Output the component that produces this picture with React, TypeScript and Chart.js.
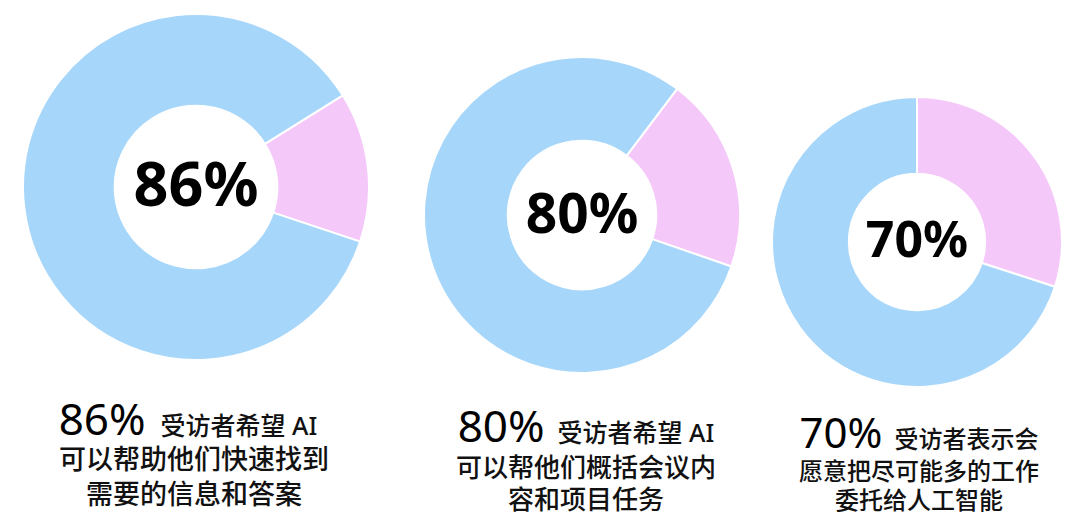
import React, { useEffect, useRef } from "react";
import { Chart, registerables } from "chart.js";

Chart.register(...registerables);

// ---- data ----
const segmentLabels = ["其他", "受访者占比"];
const sharePercents = [86, 80, 70];
const restPercents = [14, 20, 30];
const centerLabels = ["86%", "80%", "70%"];
const captionPercents = ["86%", "80%", "70%"];
const captionLeads = ["受访者希望 AI", "受访者希望 AI", "受访者表示会"];
const captionLine2 = ["可以帮助他们快速找到", "可以帮他们概括会议内", "愿意把尽可能多的工作"];
const captionLine3 = ["需要的信息和答案", "容和项目任务", "委托给人工智能"];

// ---- layout / style ----
const BLUE = "#A6D6FA";
const PINK = "#F5C8FA";
const FONT = '"Noto Sans", "Noto Sans CJK SC", sans-serif';

const ringLayout = [
  { cx: 196, cy: 187, r: 174, rotation: 58, font: 61, baseDy: 19 },
  { cx: 582, cy: 215, r: 159, rotation: 37, font: 55, baseDy: 18 },
  { cx: 917, cy: 242, r: 146, rotation: 0, font: 50, baseDy: 15 },
];

const captionLayout = [
  { cx: 194, l1dx: -6, l1: 418, l2: 459, l3: 494, pct: 44, gap: 15, lead: 25, body: 27 },
  { cx: 586, l1dx: 0, l1: 425, l2: 467, l3: 499, pct: 44, gap: 13, lead: 25, body: 26 },
  { cx: 919, l1dx: 0, l1: 432, l2: 471, l3: 500, pct: 42, gap: 12, lead: 24, body: 24 },
];

function Ring({ idx }: { idx: number }) {
  const ref = useRef<HTMLCanvasElement | null>(null);
  const lay = ringLayout[idx];
  useEffect(() => {
    if (!ref.current) return;
    const centerText = {
      id: "centerText" + idx,
      afterDraw(chart: any) {
        const { ctx, chartArea } = chart;
        const x = (chartArea.left + chartArea.right) / 2;
        const y = (chartArea.top + chartArea.bottom) / 2;
        ctx.save();
        ctx.font = `bold ${lay.font}px ${FONT}`;
        ctx.fillStyle = "#000000";
        ctx.textAlign = "center";
        ctx.textBaseline = "alphabetic";
        ctx.fillText(centerLabels[idx], x, y + lay.baseDy);
        ctx.restore();
      },
    };
    const chart = new Chart(ref.current, {
      type: "doughnut",
      data: {
        labels: segmentLabels,
        datasets: [
          {
            data: [restPercents[idx], sharePercents[idx]],
            backgroundColor: [PINK, BLUE],
            borderColor: "#ffffff",
            borderWidth: 2,
            hoverOffset: 0,
          },
        ],
      },
      options: {
        animation: false,
        responsive: true,
        maintainAspectRatio: false,
        cutout: "47%",
        rotation: lay.rotation,
        layout: { padding: 0 },
        plugins: {
          legend: { display: false },
          tooltip: { enabled: false },
        },
        events: [],
      },
      plugins: [centerText],
    });
    return () => chart.destroy();
  }, [idx]);
  const size = lay.r * 2;
  return (
    <div
      style={{
        position: "absolute",
        left: lay.cx - lay.r,
        top: lay.cy - lay.r,
        width: size,
        height: size,
      }}
    >
      <canvas ref={ref} />
    </div>
  );
}

function Caption({ idx }: { idx: number }) {
  const c = captionLayout[idx];
  const lineStyle = (center: number, h: number, dx = 0): React.CSSProperties => ({
    position: "absolute",
    left: c.cx + dx - 250,
    width: 500,
    top: center - h / 2,
    height: h,
    lineHeight: `${h}px`,
    textAlign: "center",
    whiteSpace: "nowrap",
    color: "#111111",
    fontFamily: FONT,
    fontWeight: 500,
  });
  return (
    <>
      <div style={lineStyle(c.l1, 50, c.l1dx)}>
        <span style={{ fontSize: c.pct, fontWeight: 400, color: "#000" }}>{captionPercents[idx]}</span>
        <span style={{ fontSize: c.lead, marginLeft: c.gap }}>{captionLeads[idx]}</span>
      </div>
      <div style={{ ...lineStyle(c.l2, 34), fontSize: c.body }}>{captionLine2[idx]}</div>
      <div style={{ ...lineStyle(c.l3, 34), fontSize: c.body }}>{captionLine3[idx]}</div>
    </>
  );
}

export default function App() {
  return (
    <div
      style={{
        position: "absolute",
        left: 0,
        top: 0,
        width: 1080,
        height: 530,
        background: "#ffffff",
        overflow: "hidden",
      }}
    >
      {[0, 1, 2].map((i) => (
        <Ring key={"r" + i} idx={i} />
      ))}
      {[0, 1, 2].map((i) => (
        <Caption key={"c" + i} idx={i} />
      ))}
    </div>
  );
}
